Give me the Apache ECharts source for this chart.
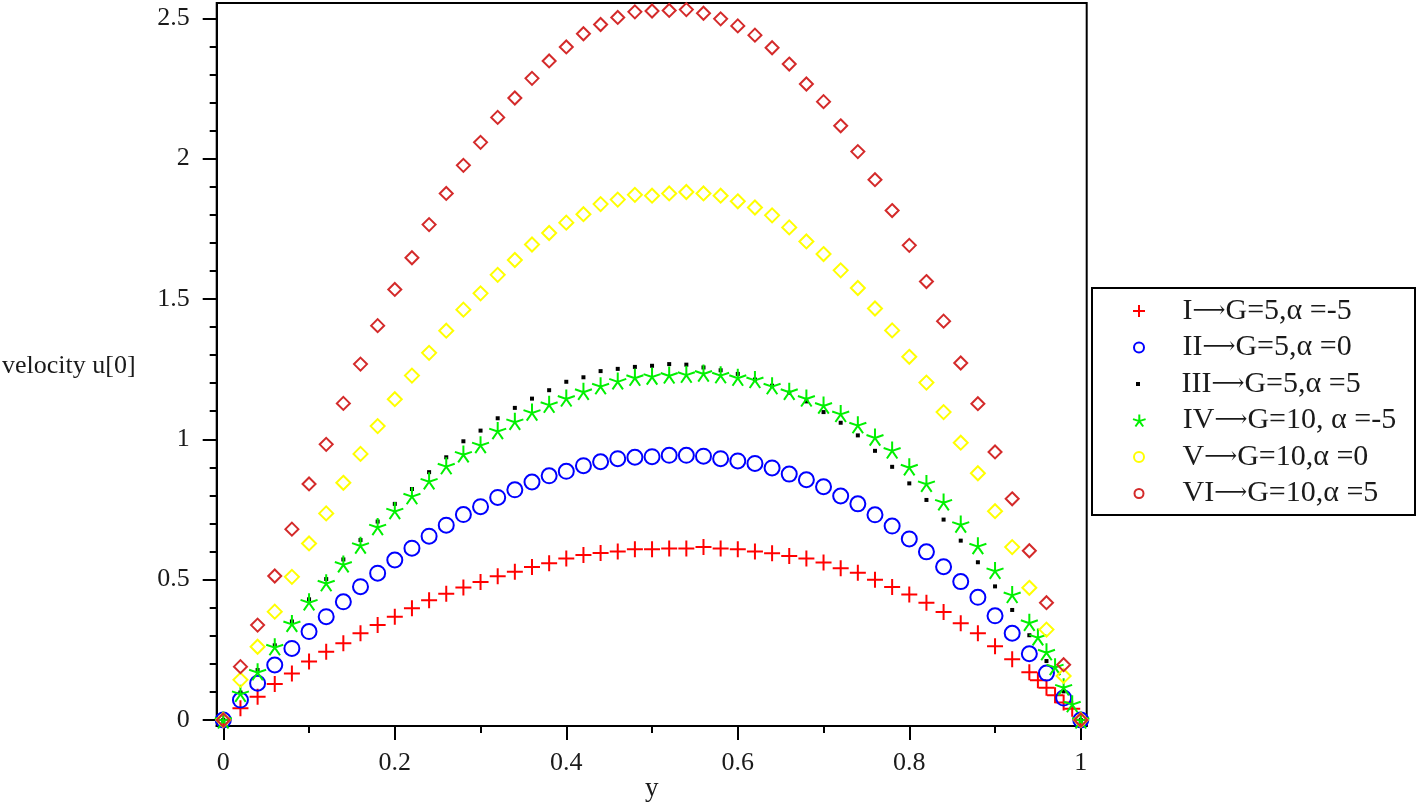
<!DOCTYPE html>
<html>
<head>
<meta charset="utf-8">
<script src="https://cdn.jsdelivr.net/npm/echarts@6/dist/echarts.min.js"></script>
<style>html,body{margin:0;padding:0;background:#fff;}#chart{width:1418px;height:805px;}</style>
</head>
<body>
<div id="chart"></div>
<script>
// ---- data ----
const yPositions = [0,0.02,0.04,0.06,0.08,0.10,0.12,0.14,0.16,0.18,0.20,0.22,0.24,0.26,0.28,0.30,0.32,0.34,0.36,0.38,0.40,0.42,0.44,0.46,0.48,0.50,0.52,0.54,0.56,0.58,0.60,0.62,0.64,0.66,0.68,0.70,0.72,0.74,0.76,0.78,0.80,0.82,0.84,0.86,0.88,0.90,0.92,0.94,0.96,0.98,1.00];
const seriesI   = [0,0.042,0.083,0.128,0.166,0.208,0.243,0.273,0.309,0.338,0.368,0.398,0.427,0.450,0.472,0.492,0.512,0.528,0.545,0.558,0.575,0.588,0.595,0.600,0.608,0.608,0.611,0.611,0.616,0.611,0.608,0.600,0.594,0.584,0.575,0.561,0.541,0.525,0.500,0.474,0.447,0.418,0.385,0.345,0.309,0.263,0.216,0.170,0.115,0.062,0];
const seriesII  = [0,0.071,0.131,0.196,0.255,0.315,0.368,0.421,0.475,0.523,0.570,0.612,0.655,0.694,0.732,0.760,0.793,0.820,0.848,0.870,0.886,0.906,0.920,0.931,0.936,0.938,0.943,0.943,0.940,0.931,0.923,0.914,0.898,0.876,0.856,0.831,0.798,0.770,0.731,0.691,0.645,0.599,0.546,0.493,0.437,0.371,0.309,0.236,0.167,0.078,0];
const seriesIII = [0,0.098,0.178,0.266,0.351,0.430,0.502,0.572,0.641,0.707,0.770,0.823,0.883,0.936,0.993,1.031,1.075,1.112,1.145,1.175,1.205,1.221,1.243,1.251,1.258,1.262,1.268,1.266,1.256,1.246,1.233,1.213,1.191,1.166,1.135,1.097,1.059,1.014,0.959,0.902,0.843,0.784,0.714,0.639,0.562,0.476,0.392,0.302,0.210,0.102,0];
const seriesIV  = [0,0.095,0.172,0.261,0.344,0.421,0.489,0.556,0.623,0.689,0.746,0.799,0.852,0.906,0.948,0.981,1.031,1.064,1.097,1.125,1.147,1.171,1.191,1.208,1.221,1.225,1.229,1.232,1.236,1.230,1.221,1.213,1.191,1.171,1.147,1.122,1.092,1.052,1.008,0.962,0.902,0.843,0.777,0.698,0.621,0.533,0.447,0.348,0.243,0.118,0];
const seriesV   = [0,0.143,0.261,0.386,0.510,0.629,0.736,0.845,0.948,1.047,1.143,1.227,1.308,1.387,1.462,1.520,1.586,1.639,1.694,1.735,1.772,1.802,1.838,1.854,1.871,1.868,1.876,1.881,1.876,1.868,1.848,1.826,1.798,1.755,1.705,1.660,1.602,1.539,1.466,1.388,1.294,1.202,1.097,0.988,0.879,0.744,0.616,0.471,0.322,0.157,0];
const seriesVI  = [0,0.190,0.338,0.513,0.680,0.841,0.982,1.128,1.268,1.405,1.534,1.647,1.765,1.876,1.976,2.058,2.147,2.216,2.286,2.348,2.398,2.445,2.478,2.503,2.523,2.526,2.528,2.531,2.518,2.498,2.473,2.440,2.395,2.337,2.266,2.203,2.117,2.025,1.925,1.815,1.691,1.562,1.421,1.272,1.127,0.955,0.788,0.603,0.418,0.197,0];
// extra points near the wall for I and IV
const fineYPositions = [0.95,0.97,0.99];
const seriesIFine  = [0.142,0.088,0.040];
const seriesIVFine = [0.296,0.190,0.058];

const seriesNames = ['I\u2192G=5,\u03b1 =-5','II\u2192G=5,\u03b1 =0','III\u2192G=5,\u03b1 =5','IV\u2192G=10, \u03b1 =-5','V\u2192G=10,\u03b1 =0','VI\u2192G=10,\u03b1 =5'];
const xMajorTicks = [0,0.2,0.4,0.6,0.8,1];
const xMinorTicks = [0.1,0.3,0.5,0.7,0.9];
const yMajorTicks = [0,0.5,1,1.5,2,2.5];
const yMinorTicks = [0.1,0.2,0.3,0.4,0.6,0.7,0.8,0.9,1.1,1.2,1.3,1.4,1.6,1.7,1.8,1.9,2.1,2.2,2.3,2.4];
const xAxisTitle = 'y';
const yAxisTitle = 'velocity u[0]';

// ---- styling ----
const FONT = "'Liberation Serif','Times New Roman',serif";
const TXT = '#1a1a1a';
const colors = ['#ff0000','#0000ff','#000000','#00f000','#ffff00','#d42a2a'];
const PLUS = 'path://M0,8L16,8M8,0L8,16';
const STAR = 'path://M10,10L10,0M10,10L19.51,6.91M10,10L15.88,18.09M10,10L4.12,18.09M10,10L0.49,6.91';
const DOT = 'path://M0,0L4,0L4,4L0,4Z';
const symbols = [PLUS, 'circle', 'rect', STAR, 'diamond', 'diamond'];
const symbolSizes = [16,15,4,17,14,13];
const legendIcons = [PLUS, 'circle', DOT, STAR, 'circle', 'circle'];
const legendIconSizes = [12,10,4,12,10,9];
const legendRowCenters = [311,347.5,384,420.5,457,493.5];
const legendIconCenterX = 1138;

function pairs(xs, vs){ return xs.map((x,i)=>[x, vs[i]]); }
const allData = [
  pairs(yPositions, seriesI).concat(pairs(fineYPositions, seriesIFine)).sort((a,b)=>a[0]-b[0]),
  pairs(yPositions, seriesII),
  pairs(yPositions, seriesIII),
  pairs(yPositions, seriesIV).concat(pairs(fineYPositions, seriesIVFine)).sort((a,b)=>a[0]-b[0]),
  pairs(yPositions, seriesV),
  pairs(yPositions, seriesVI)
];

const series = seriesNames.map((n,i)=>({
  name: n,
  type: 'scatter',
  xAxisIndex: 0, yAxisIndex: 0,
  data: allData[i],
  symbol: symbols[i],
  symbolSize: symbolSizes[i],
  itemStyle: i===2 ? {color:'#000', borderWidth:0, opacity:1}
                   : {color:'rgba(0,0,0,0)', borderColor: colors[i], borderWidth: 2, opacity:1},
  emphasis: {disabled: true},
  animation: false
}));

const legends = seriesNames.map((n,i)=>({
  data: [{name: n, icon: legendIcons[i]}],
  orient: 'vertical',
  left: legendIconCenterX - legendIconSizes[i]/2,
  top: legendRowCenters[i]-15,
  padding: 0,
  itemWidth: 77,
  itemHeight: legendIconSizes[i],
  itemGap: 0,
  selectedMode: false,
  itemStyle: i===2 ? {color:'#000', borderWidth:0} : {color:'rgba(0,0,0,0)', borderColor: colors[i], borderWidth: 2},
  formatter: name => name.replace('\u2192', '{a|\u27F6}'),
  textStyle: {fontFamily: FONT, fontSize: 30, lineHeight: 30, color: TXT,
    rich: {a: {fontFamily: "'DejaVu Serif','DejaVu Sans'", fontSize: 23, lineHeight: 30, color: TXT}}}
}));

const XMIN = -0.0077, XMAX = 1.0069, YMIN = -0.0214, YMAX = 2.5545;
const tickStyle = {color:'#000', width:2};
const lineStyle = {color:'#000', width:2};

const option = {
  backgroundColor: '#fff',
  animation: false,
  grid: {left: 216.7, top: 3, right: 331.3, bottom: 79, containLabel: false, outerBoundsMode: 'none',
         show: true, borderColor: '#000', borderWidth: 2, backgroundColor: 'rgba(0,0,0,0)'},
  xAxis: [
    {type:'value', min: XMIN, max: XMAX, position:'bottom',
     axisLine:{show:true, onZero:false, lineStyle: lineStyle}, splitLine:{show:false},
     axisTick:{show:true, inside:false, customValues: xMajorTicks, length:14, lineStyle: tickStyle},
     axisLabel:{show:true, customValues: xMajorTicks, margin: 24, fontFamily: FONT, fontSize: 26, color: TXT},
     name: xAxisTitle, nameLocation:'middle', nameGap: 49, nameMoveOverlap: false,
     nameTextStyle:{fontFamily: FONT, fontSize: 27, color: TXT}},
    {type:'value', min: XMIN, max: XMAX, position:'bottom',
     axisLine:{show:true, onZero:false, lineStyle: lineStyle}, splitLine:{show:false},
     axisTick:{show:true, inside:false, customValues: xMinorTicks, length:7, lineStyle: tickStyle},
     axisLabel:{show:false}}
  ],
  yAxis: [
    {type:'value', min: YMIN, max: YMAX, position:'left',
     axisLine:{show:true, onZero:false, lineStyle: lineStyle}, splitLine:{show:false},
     axisTick:{show:true, inside:false, customValues: yMajorTicks, length:14, lineStyle: tickStyle},
     axisLabel:{show:true, customValues: yMajorTicks, margin: 27, fontFamily: FONT, fontSize: 26, color: TXT}},
    {type:'value', min: YMIN, max: YMAX, position:'left',
     axisLine:{show:true, onZero:false, lineStyle: lineStyle}, splitLine:{show:false},
     axisTick:{show:true, inside:false, customValues: yMinorTicks, length:7, lineStyle: tickStyle},
     axisLabel:{show:false}}
  ],
  legend: legends,
  graphic: [
    {type:'rect', shape:{x:1092, y:288, width:323, height:227}, style:{fill:'none', stroke:'#000', lineWidth:2}, z: 100},
    {type:'text', style:{text: yAxisTitle, x: 2, y: 366, align:'left', verticalAlign:'middle', fontFamily: FONT, fontSize: 26, fill: TXT}, z: 100}
  ],
  series: series
};

const chart = echarts.init(document.getElementById('chart'), null, {renderer:'canvas'});
chart.setOption(option);
</script>
</body>
</html>
